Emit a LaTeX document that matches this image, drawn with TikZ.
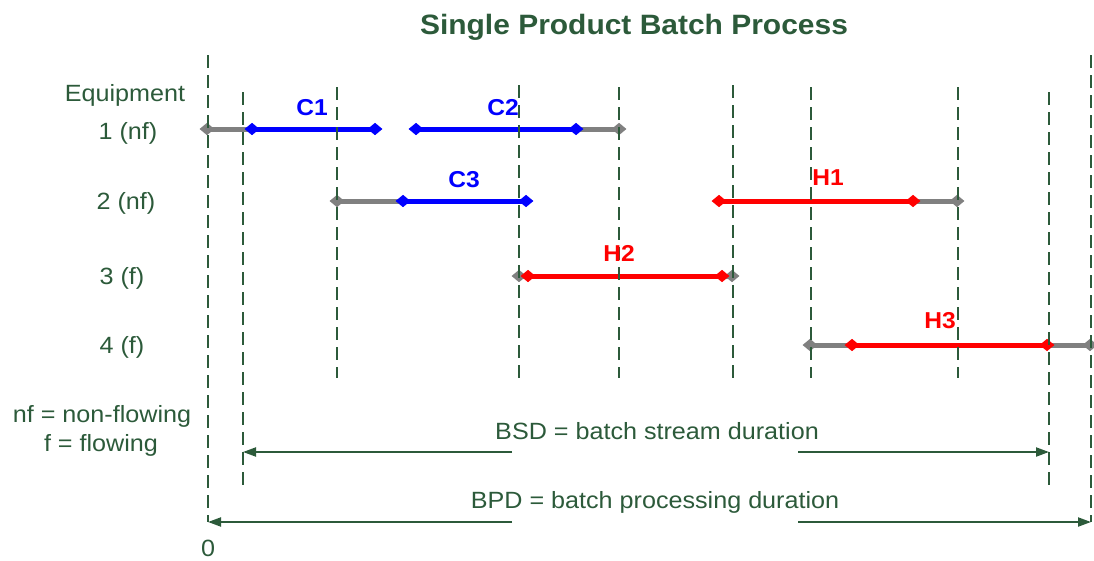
\documentclass[tikz,border=0pt]{standalone}
\usepackage{fontspec}
\setmainfont{Liberation Sans}[FakeStretch=1.07]
\usetikzlibrary{arrows.meta,shapes.geometric}
\definecolor{dkgreen}{RGB}{44,90,58}
\definecolor{bargray}{RGB}{128,128,128}
\definecolor{barblue}{RGB}{0,0,255}
\definecolor{barred}{RGB}{255,0,0}
\tikzset{
  guide/.style={draw=dkgreen, line width=2pt, dash pattern=on 13pt off 7pt},
  dia/.style={shape=diamond, inner sep=0pt, minimum width=15pt, minimum height=12.5pt, draw=none},
  gdia/.style={dia, fill=bargray},
  bdia/.style={dia, fill=barblue},
  rdia/.style={dia, fill=barred},
  gseg/.style={draw=bargray, line width=5pt},
  bseg/.style={draw=barblue, line width=5pt},
  rseg/.style={draw=barred, line width=5pt},
  dimarrow/.style={draw=dkgreen, line width=2pt, -{Triangle[length=13pt,width=9pt]}},
  lbl/.style={anchor=base, inner sep=0pt, text=dkgreen, font=\fontsize{23.5}{28}\selectfont},
  ttl/.style={anchor=base, inner sep=0pt, text=dkgreen, font=\fontsize{28}{32}\selectfont\bfseries},
  blbl/.style={anchor=base, inner sep=0pt, text=barblue, font=\fontsize{23}{28}\selectfont\bfseries},
  rlbl/.style={anchor=base, inner sep=0pt, text=barred, font=\fontsize{23}{28}\selectfont\bfseries},
}
\begin{document}
\begin{tikzpicture}[x=1pt,y=-1pt]
\useasboundingbox (0,0) rectangle (1094,560);
% bar points
\coordinate (g1a) at (207,129); \coordinate (c1a) at (252,129); \coordinate (c1b) at (375,129);
\coordinate (c2a) at (416,129); \coordinate (c2b) at (576,129); \coordinate (g1b) at (619,129);
\coordinate (g2a) at (337,201); \coordinate (c3a) at (403,201); \coordinate (c3b) at (526,201);
\coordinate (h1a) at (719,201); \coordinate (h1b) at (913,201); \coordinate (g2b) at (957,201);
\coordinate (g3a) at (519,276); \coordinate (h2a) at (528,276); \coordinate (h2b) at (722,276); \coordinate (g3b) at (732,276);
\coordinate (g4a) at (810,345); \coordinate (h3a) at (852,345); \coordinate (h3b) at (1047,345); \coordinate (g4b) at (1090,345);
% gray segments
\draw[gseg] (g1a) -- (c1a);
\draw[gseg] (c2b) -- (g1b);
\draw[gseg] (g2a) -- (c3a);
\draw[gseg] (h1b) -- (g2b);
\draw[gseg] (g3a) -- (h2a);
\draw[gseg] (h2b) -- (g3b);
\draw[gseg] (g4a) -- (h3a);
\draw[gseg] (h3b) -- (g4b);
% coloured segments
\draw[bseg] (c1a) -- (c1b);
\draw[bseg] (c2a) -- (c2b);
\draw[bseg] (c3a) -- (c3b);
\draw[rseg] (h1a) -- (h1b);
\draw[rseg] (h2a) -- (h2b);
\draw[rseg] (h3a) -- (h3b);
% diamonds
\node[gdia] (G1a) at (g1a) {}; \node[gdia] (G1b) at (g1b) {};
\node[gdia] (G2a) at (g2a) {}; \node[gdia] (G2b) at (g2b) {};
\node[gdia] (G3a) at (g3a) {}; \node[gdia] (G3b) at (g3b) {};
\node[gdia] (G4a) at (g4a) {}; \node[gdia] (G4b) at (g4b) {};
\node[bdia] (C1a) at (c1a) {}; \node[bdia] (C1b) at (c1b) {};
\node[bdia] (C2a) at (c2a) {}; \node[bdia] (C2b) at (c2b) {};
\node[bdia] (C3a) at (c3a) {}; \node[bdia] (C3b) at (c3b) {};
\node[rdia] (H1a) at (h1a) {}; \node[rdia] (H1b) at (h1b) {};
\node[rdia] (H2a) at (h2a) {}; \node[rdia] (H2b) at (h2b) {};
\node[rdia] (H3a) at (h3a) {}; \node[rdia] (H3b) at (h3b) {};
% vertical dashed guides
\foreach \n/\x/\t/\b in {1/208/55/522, 2/243/92/492, 3/337/87/378, 4/519/85/378, 5/619/87/378,
                         6/733/85/378, 7/811/87/378, 8/958/87/378, 9/1049/92/490, 10/1091/55/522}{
  \coordinate (v\n t) at (\x,\t);
  \coordinate (v\n b) at (\x,\b);
  \draw[guide] (v\n t) -- (v\n b);
}
% duration arrows
\coordinate (bsdL) at (243,452); \coordinate (bsdGL) at (512,452);
\coordinate (bsdGR) at (798,452); \coordinate (bsdR) at (1049,452);
\coordinate (bpdL) at (208,522); \coordinate (bpdGL) at (512,522);
\coordinate (bpdGR) at (798,522); \coordinate (bpdR) at (1091,522);
\draw[dimarrow] (bsdGL) -- (bsdL);
\draw[dimarrow] (bsdGR) -- (bsdR);
\draw[dimarrow] (bpdGL) -- (bpdL);
\draw[dimarrow] (bpdGR) -- (bpdR);
% texts
\node[ttl] (title) at (634,34) {Single Product Batch Process};
\node[lbl] (equip) at (125,101) {Equipment};
\node[lbl] (e1) at (128,139) {1 (nf)};
\node[lbl] (e2) at (126,209) {2 (nf)};
\node[lbl] (e3) at (122,284) {3 (f)};
\node[lbl] (e4) at (122,353) {4 (f)};
\node[lbl] (leg1) at (102,422) {nf = non-flowing};
\node[lbl] (leg2) at (101,451) {f = flowing};
\node[lbl] (bsd) at (657,439) {BSD = batch stream duration};
\node[lbl] (bpd) at (655,508) {BPD = batch processing duration};
\node[lbl] (zero) at (208,556) {0};
\node[blbl] (lc1) at (312,115) {C1};
\node[blbl] (lc2) at (503,115) {C2};
\node[blbl] (lc3) at (464,187) {C3};
\node[rlbl] (lh1) at (828,185) {H1};
\node[rlbl] (lh2) at (619,261) {H2};
\node[rlbl] (lh3) at (940,328) {H3};
\end{tikzpicture}
\end{document}
